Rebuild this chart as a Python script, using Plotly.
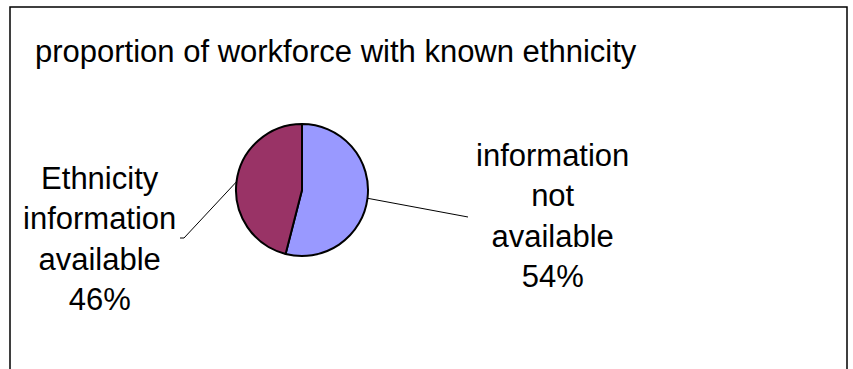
import math
import plotly.graph_objects as go

# ---- data ----
labels = ["information not available", "Ethnicity information available"]
label_lines = [["information", "not", "available"], ["Ethnicity", "information", "available"]]
values = [54, 46]
colors = ["#9999FF", "#993366"]
title_text = "proportion of workforce with known ethnicity"

W, H = 853, 369
FONT = "Liberation Sans, Arial, sans-serif"
FS = 31

def px(x):
    return x / W

def py(y):
    return 1 - y / H

# pie geometry (pixels)
cx, cy, r = 302, 190, 66

fig = go.Figure()
fig.add_trace(go.Pie(
    labels=labels, values=values, sort=False, direction="clockwise", rotation=0,
    marker=dict(colors=colors, line=dict(color="black", width=2)),
    textinfo="none", hoverinfo="label+percent", showlegend=False,
    domain=dict(x=[px(cx - r), px(cx + r)], y=[py(cy + r), py(cy - r)]),
))

# label anchors (pixels): where the leader line ends / label block centre
label_pos = [(552, 216), (99, 239)]
leader_end = [(468, 217), (184, 238)]
leader_tick = [None, (180, 238)]

total = sum(values)
cum = 0
shapes = []
annotations = []
for i, v in enumerate(values):
    mid = (cum + v / 2) / total * 360
    cum += v
    sx = cx + r * math.sin(math.radians(mid))
    sy = cy - r * math.cos(math.radians(mid))
    ex, ey = leader_end[i]
    shapes.append(dict(type="line", xref="paper", yref="paper",
                       x0=px(sx), y0=py(sy), x1=px(ex), y1=py(ey),
                       line=dict(color="black", width=1)))
    if leader_tick[i]:
        tx, ty = leader_tick[i]
        shapes.append(dict(type="line", xref="paper", yref="paper",
                           x0=px(ex), y0=py(ey), x1=px(tx), y1=py(ty),
                           line=dict(color="black", width=1)))
    pct = round(v / total * 100)
    text = "<br>".join(label_lines[i] + [f"{pct}%"])
    lx, ly = label_pos[i]
    annotations.append(dict(xref="paper", yref="paper", x=px(lx), y=py(ly),
                            xanchor="center", yanchor="middle", align="center",
                            text=text, showarrow=False,
                            font=dict(family=FONT, size=FS, color="black")))

# title
annotations.append(dict(xref="paper", yref="paper", x=px(33), y=py(51.5),
                        xanchor="left", yanchor="middle", text=title_text,
                        showarrow=False,
                        font=dict(family=FONT, size=FS, color="black")))

# chart border (bottom edge outside the view)
shapes.append(dict(type="rect", xref="paper", yref="paper",
                   x0=px(10), y0=py(380), x1=px(847), y1=py(7),
                   line=dict(color="black", width=1.5), fillcolor="rgba(0,0,0,0)"))

fig.update_layout(width=W, height=H, margin=dict(l=0, r=0, t=0, b=0),
                  paper_bgcolor="white", plot_bgcolor="white",
                  shapes=shapes, annotations=annotations)

fig.write_html("out.html", config={"displayModeBar": False},
               post_script="document.body.style.margin='0';document.body.style.overflow='hidden';")
